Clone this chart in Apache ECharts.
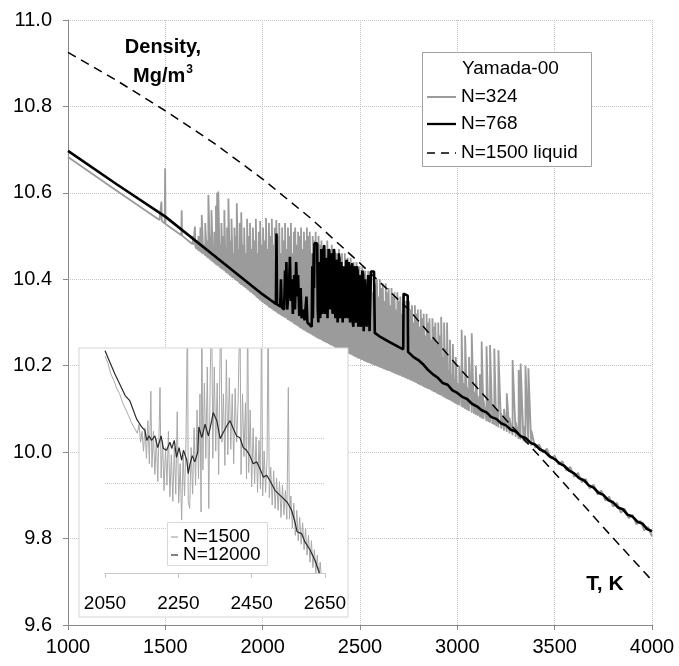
<!DOCTYPE html>
<html><head><meta charset="utf-8">
<script src="https://cdn.jsdelivr.net/npm/echarts@6/dist/echarts.min.js"></script>
<style>html,body{margin:0;padding:0;background:#fff}#c{width:679px;height:666px}</style>
</head><body><div id="c"></div>
<script>
// ---------- data ----------
const xTicks = [1000, 1500, 2000, 2500, 3000, 3500, 4000];
const yTicks = [9.6, 9.8, 10.0, 10.2, 10.4, 10.6, 10.8, 11.0];
const insetXTicks = [2050, 2250, 2450, 2650];
const insetGridValues = [10.15, 10.20, 10.25];
const legendTitle = 'Yamada-00';
const mainNames = ['N=324', 'N=768', 'N=1500 liquid'];
const insetNames = ['N=1500', 'N=12000'];

// N=324 (gray): head, spikes [T, low, high], tail
const gray324Head = [[1000,10.683],[1250,10.605],[1470,10.537],[1478,10.536],[1480,10.58],[1482,10.535],[1497,10.529],[1499,10.657],[1501,10.528],[1582,10.502],[1584,10.56],[1586,10.501],[1640,10.481],[1642,10.50],[1644,10.480],[1650,10.477],[1652,10.522],[1654,10.476]];
const gray324Spikes = [
[1660,10.470,10.49],[1670,10.466,10.50],[1680,10.463,10.52],[1687,10.460,10.549],[1695,10.458,10.48],[1705,10.454,10.53],[1713,10.451,10.49],[1721,10.448,10.595],[1730,10.445,10.50],[1737,10.442,10.56],
[1745,10.440,10.47],[1752,10.437,10.51],[1760,10.434,10.57],[1766,10.432,10.60],[1772,10.430,10.603],[1780,10.427,10.48],[1788,10.424,10.53],[1795,10.422,10.50],[1803,10.419,10.56],[1810,10.416,10.47],
[1817,10.414,10.52],[1824,10.411,10.587],[1832,10.408,10.49],[1840,10.405,10.54],[1847,10.403,10.46],[1855,10.400,10.52],[1862,10.398,10.50],[1867,10.396,10.576],[1875,10.393,10.47],[1882,10.390,10.53],
[1890,10.387,10.555],[1897,10.385,10.48],[1905,10.382,10.52],[1912,10.380,10.46],[1920,10.377,10.54],[1927,10.374,10.50],[1935,10.371,10.53],[1942,10.369,10.47],[1950,10.366,10.52],[1957,10.363,10.49],
[1965,10.360,10.54],[1972,10.357,10.46],[1980,10.354,10.51],[1987,10.351,10.535],[1995,10.348,10.48],[2002,10.346,10.52],[2010,10.343,10.49],[2017,10.341,10.542],[2025,10.338,10.47],[2032,10.335,10.53],
[2040,10.333,10.50],[2047,10.331,10.54],[2055,10.328,10.48],[2062,10.326,10.52],[2070,10.324,10.537],[2077,10.321,10.50],[2085,10.319,10.53],[2092,10.317,10.46],[2100,10.315,10.52],[2107,10.313,10.49],
[2115,10.311,10.53],[2122,10.309,10.47],[2130,10.306,10.52],[2137,10.304,10.50],[2145,10.302,10.53],[2152,10.300,10.46],[2160,10.297,10.51],[2167,10.295,10.52],[2175,10.293,10.48],[2182,10.291,10.51],
[2190,10.288,10.50],[2197,10.286,10.52],[2205,10.284,10.47],[2212,10.282,10.51],[2220,10.280,10.49],[2227,10.278,10.52],[2235,10.276,10.50],[2242,10.274,10.51],[2250,10.272,10.46],[2257,10.270,10.50],
[2265,10.268,10.49],[2272,10.266,10.51],[2280,10.264,10.47],[2287,10.262,10.50],[2295,10.261,10.48],[2302,10.259,10.49],[2310,10.257,10.45],[2317,10.255,10.48],[2325,10.254,10.47],[2332,10.252,10.49],
[2340,10.250,10.44],[2347,10.248,10.47],[2355,10.247,10.48],[2362,10.245,10.45],[2370,10.243,10.47],[2377,10.241,10.46],[2385,10.240,10.43],[2392,10.238,10.47],[2400,10.237,10.45],[2407,10.235,10.46],
[2415,10.233,10.42],[2422,10.232,10.46],[2430,10.230,10.44],[2437,10.229,10.45],[2445,10.227,10.41],[2452,10.226,10.45],[2460,10.224,10.43],[2467,10.222,10.44],[2475,10.221,10.40],[2482,10.219,10.44],
[2490,10.217,10.42],[2497,10.216,10.43],[2505,10.214,10.40],[2512,10.213,10.43],[2520,10.211,10.42],[2527,10.210,10.42],[2535,10.208,10.38],[2542,10.207,10.42],[2550,10.206,10.41],[2557,10.204,10.41],
[2565,10.203,10.37],[2572,10.201,10.41],[2580,10.200,10.39],[2587,10.199,10.40],[2595,10.197,10.36],[2602,10.196,10.40],[2610,10.195,10.38],[2617,10.193,10.39],[2625,10.192,10.35],[2632,10.190,10.39],
[2640,10.189,10.37],[2647,10.188,10.38],[2655,10.187,10.34],[2662,10.185,10.38],[2670,10.184,10.36],[2677,10.182,10.37],[2685,10.181,10.33],[2692,10.179,10.37],[2700,10.178,10.35],[2707,10.177,10.36],
[2715,10.175,10.32],[2722,10.174,10.36],[2730,10.172,10.34],[2737,10.171,10.35],[2745,10.169,10.31],[2752,10.168,10.35],[2760,10.166,10.33],[2767,10.165,10.34],[2775,10.163,10.30],[2782,10.162,10.34],
[2790,10.160,10.32],[2797,10.158,10.33],[2805,10.156,10.29],[2812,10.155,10.33],[2820,10.153,10.31],[2827,10.151,10.32],[2835,10.149,10.27],[2842,10.148,10.32],[2850,10.146,10.30],[2857,10.145,10.31],
[2865,10.143,10.26],[2872,10.141,10.31],[2880,10.139,10.29],[2887,10.138,10.30],[2895,10.136,10.25],[2902,10.134,10.30],[2910,10.132,10.27],[2917,10.131,10.313],[2925,10.129,10.22],[2932,10.127,10.30],
[2940,10.125,10.24],[2947,10.123,10.30],[2955,10.121,10.19],[2962,10.120,10.26],[2970,10.118,10.18],[2977,10.116,10.25],[2985,10.114,10.17],[2992,10.112,10.22],[3000,10.110,10.16],[3010,10.108,10.20],
[3022,10.105,10.283],[3030,10.103,10.16],[3040,10.100,10.27],[3050,10.097,10.15],[3060,10.095,10.22],[3074,10.091,10.275],[3085,10.089,10.14],[3095,10.086,10.20],[3105,10.084,10.13],[3116,10.081,10.18],
[3125,10.078,10.256],[3135,10.076,10.12],[3150,10.072,10.245],[3160,10.070,10.12],[3168,10.068,10.248],[3180,10.065,10.11],[3190,10.063,10.24],[3200,10.060,10.10],[3211,10.057,10.236],[3225,10.054,10.09],
[3240,10.050,10.10],[3254,10.047,10.136],[3268,10.043,10.08],[3284,10.039,10.213],[3300,10.035,10.07],[3315,10.031,10.19],[3325,10.029,10.205],[3340,10.025,10.06],[3350,10.022,10.20],[3365,10.019,10.194],
[3380,10.015,10.05]
];
const gray324Tail = [[3400,10.010],[3420,10.018],[3440,9.999],[3460,10.008],[3480,9.985],[3500,9.992],[3520,9.971],[3540,9.979],[3560,9.957],[3580,9.966],[3600,9.943],[3620,9.952],[3640,9.930],[3660,9.938],[3680,9.916],[3700,9.925],[3720,9.902],[3740,9.911],[3760,9.888],[3780,9.897],[3800,9.874],[3820,9.883],[3840,9.860],[3860,9.869],[3880,9.847],[3900,9.855],[3920,9.833],[3940,9.841],[3960,9.819],[3980,9.827],[4000,9.805]];

// N=768 (black)
const black768 = [[1000,10.697],[1250,10.620],[1500,10.545],[1750,10.455],[2000,10.365],[2040,10.352],[2068,10.343],[2071,10.506],[2074,10.342],[2090,10.337],[2094,10.40],[2098,10.335],[2110,10.33],[2115,10.42],[2118,10.36],[2122,10.44],[2126,10.33],[2135,10.38],[2140,10.452],[2145,10.35],[2150,10.40],[2155,10.32],[2162,10.41],[2166,10.33],[2172,10.44],[2178,10.36],[2182,10.41],[2188,10.315],[2195,10.38],[2200,10.31],[2210,10.33],[2215,10.305],[2225,10.36],[2230,10.30],[2240,10.296],
[2252,10.29],[2255,10.43],[2258,10.31],[2262,10.46],[2264,10.38],[2266,10.483],[2280,10.483],[2283,10.33],[2286,10.30],[2289,10.42],[2292,10.44],[2295,10.31],[2298,10.33],[2301,10.47],[2304,10.46],[2307,10.32],[2310,10.35],[2313,10.47],[2316,10.479],[2319,10.34],[2322,10.32],[2326,10.45],[2330,10.44],[2333,10.31],[2336,10.38],[2339,10.47],[2342,10.464],[2345,10.35],[2348,10.33],[2352,10.46],[2356,10.45],[2359,10.32],[2362,10.36],[2365,10.47],[2368,10.46],[2371,10.33],[2374,10.31],[2378,10.44],[2382,10.445],[2385,10.30],[2388,10.34],[2391,10.46],[2394,10.45],[2397,10.31],[2400,10.32],[2404,10.44],[2408,10.44],[2411,10.30],[2414,10.30],[2417,10.43],[2420,10.43],[2423,10.31],[2426,10.33],[2429,10.44],[2432,10.445],[2435,10.32],[2438,10.31],[2442,10.44],[2446,10.44],[2449,10.30],[2452,10.30],[2456,10.43],[2460,10.437],[2463,10.30],[2466,10.29],[2470,10.42],[2474,10.43],[2477,10.30],[2480,10.31],[2484,10.43],[2488,10.42],[2491,10.29],[2494,10.29],[2497,10.41],[2500,10.40],[2504,10.29],[2508,10.30],[2512,10.42],[2516,10.41],[2519,10.28],[2522,10.28],[2526,10.40],[2530,10.40],[2534,10.29],[2538,10.29],[2542,10.41],[2546,10.41],[2549,10.28],[2552,10.28],[2556,10.418],[2572,10.418],[2576,10.276],
[2600,10.268],[2650,10.255],[2700,10.243],[2722,10.238],[2724,10.367],[2745,10.362],[2747,10.232],[2775,10.220],[2800,10.213],[2825,10.203],[2850,10.190],[2875,10.180],[2900,10.172],[2925,10.160],[2950,10.156],[2975,10.143],[3000,10.137],[3025,10.128],[3050,10.123],[3075,10.112],[3100,10.106],[3125,10.097],[3150,10.092],[3175,10.081],[3200,10.077],[3225,10.067],[3250,10.062],[3275,10.052],[3300,10.048],[3325,10.037],[3350,10.033],[3375,10.022],[3400,10.017],[3425,10.006],[3450,10.001],[3475,9.990],[3500,9.984],[3525,9.974],[3550,9.968],[3575,9.957],[3600,9.951],[3625,9.940],[3650,9.935],[3675,9.923],[3700,9.918],[3725,9.906],[3750,9.901],[3775,9.889],[3800,9.884],[3825,9.872],[3850,9.868],[3875,9.855],[3900,9.851],[3925,9.839],[3950,9.835],[3975,9.822],[4000,9.817]];

// N=1500 liquid (dashed)
const liquid1500 = [[1000,10.925],[1250,10.86],[1500,10.79],[1750,10.715],[2000,10.632],[2250,10.54],[2500,10.437],[2750,10.33],[3000,10.20],[3250,10.075],[3500,9.952],[3750,9.826],[4000,9.703]];

// inset: N=1500 (light gray) and N=12000 (dark)
const inset1500 = [[2050,10.342],[2058,10.334],[2066,10.322],[2074,10.315],[2082,10.306],[2090,10.300],[2098,10.290],[2106,10.283],[2114,10.276],[2122,10.268],[2130,10.262],[2138,10.256],[2143,10.266],[2147,10.246],[2151,10.258],[2155,10.236],[2159,10.262],[2163,10.228],[2167,10.270],[2171,10.222],[2175,10.303],[2178,10.218],[2182,10.258],[2186,10.210],[2190,10.250],[2194,10.202],[2198,10.268],[2200,10.307],[2203,10.206],[2207,10.248],[2211,10.192],[2215,10.240],[2219,10.198],[2223,10.258],[2227,10.185],[2231,10.232],[2235,10.180],[2239,10.240],[2243,10.188],[2247,10.280],[2251,10.178],[2255,10.222],[2259,10.159],[2263,10.232],[2267,10.186],[2271,10.250],[2275,10.400],[2277,10.180],[2281,10.172],[2285,10.240],[2289,10.188],[2293,10.262],[2297,10.198],[2301,10.282],[2305,10.205],[2309,10.300],[2312,10.168],[2314,10.400],[2317,10.215],[2321,10.312],[2325,10.228],[2329,10.330],[2333,10.172],[2337,10.320],[2341,10.400],[2344,10.228],[2348,10.330],[2352,10.236],[2356,10.312],[2360,10.210],[2363,10.322],[2366,10.400],[2369,10.246],[2373,10.300],[2377,10.220],[2381,10.338],[2385,10.232],[2389,10.318],[2393,10.238],[2397,10.300],[2401,10.222],[2405,10.306],[2409,10.246],[2413,10.290],[2418,10.400],[2421,10.210],[2425,10.300],[2429,10.230],[2433,10.290],[2436,10.205],[2439,10.400],[2442,10.212],[2446,10.282],[2450,10.196],[2454,10.262],[2458,10.200],[2462,10.252],[2466,10.190],[2470,10.248],[2474,10.194],[2477,10.400],[2480,10.186],[2484,10.236],[2488,10.190],[2492,10.228],[2495,10.400],[2498,10.184],[2502,10.218],[2506,10.176],[2510,10.214],[2514,10.172],[2518,10.206],[2522,10.170],[2526,10.202],[2530,10.162],[2534,10.198],[2538,10.165],[2542,10.192],[2546,10.160],[2550,10.307],[2553,10.160],[2557,10.186],[2561,10.150],[2565,10.178],[2569,10.142],[2573,10.170],[2577,10.136],[2581,10.162],[2585,10.132],[2589,10.156],[2593,10.126],[2597,10.150],[2601,10.120],[2605,10.142],[2609,10.112],[2613,10.136],[2617,10.106],[2621,10.126],[2625,10.100],[2629,10.120],[2633,10.094],[2637,10.112],[2641,10.090]];
const inset12000 = [[2050,10.348],[2077,10.322],[2105,10.298],[2118,10.292],[2136,10.272],[2150,10.263],[2159,10.259],[2164,10.248],[2170,10.253],[2177,10.248],[2186,10.253],[2194,10.240],[2203,10.253],[2209,10.239],[2218,10.237],[2227,10.246],[2232,10.239],[2239,10.248],[2245,10.229],[2252,10.240],[2259,10.226],[2264,10.237],[2273,10.226],[2277,10.211],[2282,10.222],[2288,10.231],[2295,10.224],[2303,10.235],[2306,10.263],[2314,10.251],[2323,10.266],[2332,10.253],[2341,10.270],[2345,10.279],[2355,10.270],[2364,10.250],[2373,10.257],[2382,10.264],[2391,10.270],[2400,10.261],[2409,10.253],[2418,10.251],[2427,10.240],[2436,10.237],[2445,10.231],[2454,10.222],[2464,10.224],[2473,10.216],[2482,10.207],[2491,10.209],[2500,10.203],[2514,10.192],[2532,10.185],[2547,10.179],[2559,10.170],[2568,10.157],[2574,10.146],[2586,10.144],[2595,10.135],[2609,10.126],[2623,10.114],[2632,10.103],[2640,10.094]];

// ---------- chart ----------
const FONT = '"Liberation Sans", Arial, sans-serif';
const chart = echarts.init(document.getElementById('c'), null, {renderer: 'canvas'});
const gray324 = gray324Head
  .concat(gray324Spikes.flatMap(s => [[s[0], s[1]], [s[0], s[2]]]))
  .concat(gray324Tail);

const GRAY = '#9b9b9b', INSET_GRAY = '#a8a8a8', INSET_DARK = '#2a2a2a';

function legendLine(x1, x2, y, color, width, dash, z) {
  return {type: 'line', shape: {x1: x1, y1: y, x2: x2, y2: y}, z: z, silent: true,
          style: {stroke: color, lineWidth: width, lineDash: dash || null}};
}
function legendText(x, y, text, size) {
  return {type: 'text', x: x, y: y, z: 10, silent: true,
          style: {text: text, font: size + 'px ' + FONT, fill: '#000', verticalAlign: 'middle', textVerticalAlign: 'middle'}};
}

const option = {
  animation: false,
  backgroundColor: '#ffffff',
  textStyle: {fontFamily: FONT},
  grid: [
    {left: 68, top: 20, width: 584, height: 605, show: false},
    {left: 105, top: 349, width: 220, height: 224, show: false}
  ],
  xAxis: [
    {type: 'value', gridIndex: 0, min: xTicks[0], max: xTicks[xTicks.length - 1], interval: 500,
     axisLine: {show: true, onZero: false, lineStyle: {color: '#8a8a8a', width: 1}},
     axisTick: {show: true, length: 5, lineStyle: {color: '#8a8a8a'}},
     axisLabel: {fontSize: 20, color: '#000', margin: 12, fontFamily: FONT, formatter: v => String(v)},
     splitLine: {show: true, lineStyle: {type: 'dotted', color: '#c4c4c4', width: 1}}},
    {type: 'value', gridIndex: 1, min: insetXTicks[0], max: insetXTicks[insetXTicks.length - 1], interval: 200, z: 6,
     axisLine: {show: true, onZero: false, lineStyle: {color: '#c8c8c8', width: 1}},
     axisTick: {show: true, length: 5, lineStyle: {color: '#c8c8c8'}},
     axisLabel: {fontSize: 19, color: '#000', margin: 21, fontFamily: FONT, formatter: v => String(v)},
     splitLine: {show: false}}
  ],
  yAxis: [
    {type: 'value', gridIndex: 0, min: yTicks[0], max: yTicks[yTicks.length - 1], interval: 0.2,
     axisLine: {show: true, onZero: false, lineStyle: {color: '#8a8a8a', width: 1}},
     axisTick: {show: true, length: 5, lineStyle: {color: '#8a8a8a'}},
     axisLabel: {fontSize: 20, color: '#000', margin: 16, fontFamily: FONT, formatter: v => v.toFixed(1)},
     splitLine: {show: true, lineStyle: {type: 'dotted', color: '#c4c4c4', width: 1}}},
    {type: 'value', gridIndex: 1, min: 10.10, max: 10.35, z: 6,
     axisLine: {show: false}, axisTick: {show: false}, axisLabel: {show: false}, splitLine: {show: false}}
  ],
  graphic: [
    {type: 'rect', shape: {x: 79, y: 348, width: 269, height: 269}, style: {fill: '#fff', stroke: '#d4d4d4', lineWidth: 1}, z: 3, silent: true},
    // inset legend
    {type: 'rect', shape: {x: 167.5, y: 522.5, width: 100, height: 43}, style: {fill: '#fff', stroke: '#d8d8d8', lineWidth: 1}, z: 8, silent: true},
    legendLine(171, 178, 537, INSET_GRAY, 1.2, null, 9),
    legendLine(171, 178, 555, INSET_DARK, 1.2, null, 9),
    legendText(183, 537, insetNames[0], 19),
    legendText(183, 555, insetNames[1], 19),
    // main legend
    {type: 'rect', shape: {x: 422.5, y: 52.5, width: 169, height: 114}, style: {fill: '#fff', stroke: '#a0a0a0', lineWidth: 1}, z: 8, silent: true},
    legendText(462, 69, legendTitle, 19),
    legendLine(427, 456, 97, GRAY, 2, null, 9),
    legendLine(427, 456, 124, '#000', 2.3, null, 9),
    legendLine(427, 456, 153, '#000', 1.5, [8, 6], 9),
    legendText(461, 97, mainNames[0], 19),
    legendText(461, 124, mainNames[1], 19),
    legendText(461, 153, mainNames[2], 19),
    // axis titles
    {type: 'text', x: 163, y: 47, z: 9, style: {text: 'Density,', font: 'bold 20px ' + FONT, fill: '#000', align: 'center', verticalAlign: 'middle'}},
    {type: 'text', x: 163, y: 76, z: 9, style: {text: '{a|Mg/m}{s|3}', align: 'center', verticalAlign: 'middle',
      rich: {a: {font: 'bold 20px ' + FONT, fill: '#000'}, s: {font: 'bold 12px ' + FONT, fill: '#000', padding: [0, 0, 12, 1]}}}},
    {type: 'text', x: 605, y: 584, z: 9, style: {text: 'T, K', font: 'bold 21px ' + FONT, fill: '#000', align: 'center', verticalAlign: 'middle'}}
  ],
  series: [
    {name: mainNames[0], type: 'line', xAxisIndex: 0, yAxisIndex: 0, data: gray324, showSymbol: false, symbol: 'none', z: 2,
     lineStyle: {color: GRAY, width: 1.8}, itemStyle: {color: GRAY}},
    {name: mainNames[1], type: 'line', xAxisIndex: 0, yAxisIndex: 0, data: black768, showSymbol: false, symbol: 'none', z: 2,
     lineStyle: {color: '#000', width: 2.6}, itemStyle: {color: '#000'}},
    {name: mainNames[2], type: 'line', xAxisIndex: 0, yAxisIndex: 0, data: liquid1500, showSymbol: false, symbol: 'none', z: 2,
     lineStyle: {color: '#000', width: 1.5, type: [9, 6]}, itemStyle: {color: '#000'}},
    {name: 'insetGrid', type: 'line', xAxisIndex: 1, yAxisIndex: 1, data: [[2050, 10.2]], symbol: 'none', z: 4,
     lineStyle: {opacity: 0}, silent: true,
     markLine: {silent: true, symbol: ['none', 'none'], label: {show: false},
       lineStyle: {type: 'dotted', color: '#c8c8c8', width: 1},
       data: insetGridValues.map(v => ({yAxis: v}))}},
    {name: insetNames[0], type: 'line', xAxisIndex: 1, yAxisIndex: 1, data: inset1500, showSymbol: false, symbol: 'none', z: 5,
     lineStyle: {color: INSET_GRAY, width: 1}, itemStyle: {color: INSET_GRAY}},
    {name: insetNames[1], type: 'line', xAxisIndex: 1, yAxisIndex: 1, data: inset12000, showSymbol: false, symbol: 'none', z: 5,
     lineStyle: {color: INSET_DARK, width: 1.2}, itemStyle: {color: INSET_DARK}}
  ]
};
chart.setOption(option);
</script>
</body></html>
